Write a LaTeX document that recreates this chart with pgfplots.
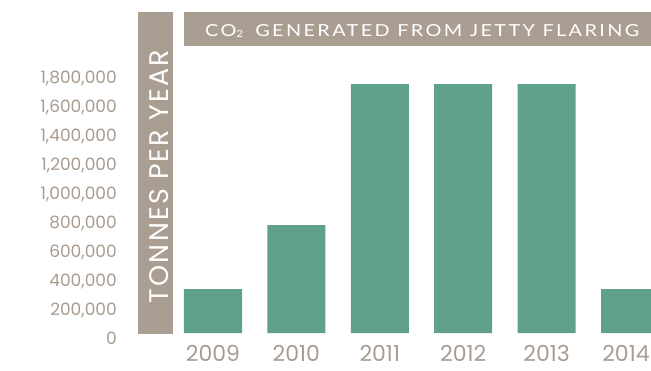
\documentclass[border=0pt]{standalone}
\usepackage{fontspec}
\setmainfont{Lato}
\newfontfamily\numfont{Poppins}
\usepackage{graphicx}
\usepackage{pgfplots}
\pgfplotsset{compat=1.18}
\definecolor{boxc}{HTML}{AA9E92}
\definecolor{barc}{HTML}{5FA18A}
\definecolor{tickc}{HTML}{A89C90}
\begin{document}
\begin{tikzpicture}
\useasboundingbox (0pt,0pt) rectangle (651pt,370pt);
\clip (0pt,0pt) rectangle (651pt,370pt);
\fill[boxc] (138pt,36pt) rectangle (173pt,358pt);
\fill[boxc] (184pt,324pt) rectangle (660pt,357.5pt);
\node[inner sep=0pt, anchor=base west, text=white] at (205pt,333pt)
  {\resizebox{434pt}{12pt}{\addfontfeature{LetterSpace=12}CO{\fontsize{6}{6}\selectfont\raisebox{-0.5pt}{2}}\hspace{6pt}GENERATED FROM JETTY FLARING}};
\node[inner sep=0pt, rotate=90, text=white] at (159.5pt,193.5pt)
  {\resizebox{253pt}{19pt}{\numfont\addfontfeature{LetterSpace=8}TONNES PER YEAR}};
\begin{axis}[
  at={(171.3pt,37pt)}, anchor=south west,
  scale only axis, width=500.4pt, height=260pt,
  xmin=-0.5, xmax=5.5, ymin=0, ymax=1800000,
  axis line style={draw=none}, tick style={draw=none},
  clip=false,
  xtick={0,1,2,3,4,5},
  xticklabels={2009,2010,2011,2012,2013,{2014\hspace*{8pt}}},
  ytick={0,200000,400000,600000,800000,1000000,1200000,1400000,1600000,1800000},
  yticklabels={0,{200,000},{400,000},{600,000},{800,000},{1,000,000},{1,200,000},{1,400,000},{1,600,000},{1,800,000}},
  xticklabel style={anchor=base, inner sep=0pt, text depth=0pt, yshift=-28pt, text=tickc, font=\numfont\fontsize{22}{22}\selectfont},
  yticklabel style={anchor=base east, inner sep=0pt, xshift=-54.3pt, yshift=-11pt, text=tickc, font=\numfont\fontsize{17}{17}\selectfont},
  scaled y ticks=false,
]
\addplot[ybar, bar width=58pt, fill=barc, draw=none] coordinates {
  (0,304000) (1,747000) (2,1723000) (3,1723000) (4,1723000) (5,304000)
};
\end{axis}
\end{tikzpicture}
\end{document}
